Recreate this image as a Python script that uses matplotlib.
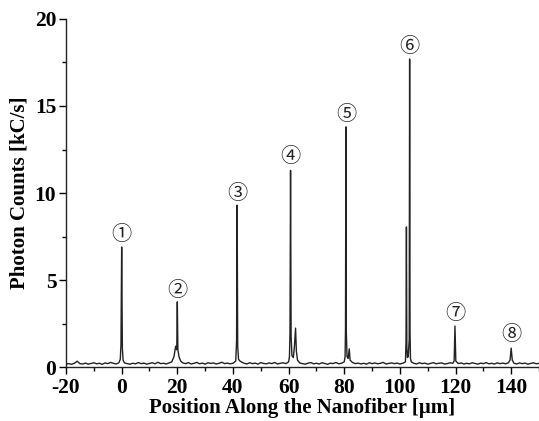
import matplotlib
matplotlib.use("Agg")
import matplotlib.pyplot as plt
from matplotlib.ticker import MultipleLocator

# trace (position in um, counts in kC/s)
pos = [-20, -19, -18, -17, -16, -15, -14, -13, -12, -11, -10, -9, -8, -7, -6, -5, -4, -3, -2, -1,
       -0.5, -0.25, 0, 0.25, 0.5,
       1, 2, 3, 4, 5, 6, 7, 8, 9, 10, 11, 12, 13, 14, 15, 16, 17, 18,
       18.8, 19.4, 19.8, 20.0, 20.2, 20.6, 21.2,
       22, 23, 24, 25, 26, 27, 28, 29, 30, 31, 32, 33, 34, 35, 36, 37, 38, 39, 40, 41,
       41.3, 41.5, 41.7, 42, 42.5,
       43, 44, 45, 46, 47, 48, 49, 50, 51, 52, 53, 54, 55, 56, 57, 58, 59, 60,
       60.3, 60.5, 60.7, 60.9, 61.2, 61.7, 62.1, 62.5, 62.8, 63.2,
       64, 65, 66, 67, 68, 69, 70, 71, 72, 73, 74, 75, 76, 77, 78, 79, 80,
       80.3, 80.45, 80.6, 80.75, 81.0, 81.4, 81.8, 82.1,
       83, 84, 85, 86, 87, 88, 89, 90, 91, 92, 93, 94, 95, 96, 97, 98, 99, 100, 101, 102,
       102.2, 102.35, 102.5, 102.7, 103.0, 103.35, 103.5, 103.65, 103.8, 104.1,
       105, 106, 107, 108, 109, 110, 111, 112, 113, 114, 115, 116, 117, 118, 119,
       119.5, 119.8, 120.1,
       121, 122, 123, 124, 125, 126, 127, 128, 129, 130, 131, 132, 133, 134, 135, 136, 137, 138, 139,
       139.6, 140, 140.4,
       141, 142, 143, 144, 145, 146, 147, 148, 149, 150]
counts = [0.17, 0.2, 0.16, 0.22, 0.34, 0.2, 0.18, 0.23, 0.17, 0.21, 0.25, 0.19, 0.22, 0.16, 0.24, 0.2, 0.27, 0.22, 0.18, 0.25,
          0.45, 1.3, 6.9, 1.1, 0.4,
          0.24, 0.2, 0.17, 0.22, 0.19, 0.26, 0.2, 0.23, 0.17, 0.21, 0.25, 0.19, 0.28, 0.2, 0.22, 0.18, 0.24, 0.3,
          0.6, 1.2, 1.0, 3.75, 1.0, 0.6, 0.35,
          0.24, 0.2, 0.26, 0.18, 0.22, 0.27, 0.19, 0.23, 0.17, 0.25, 0.21, 0.24, 0.18, 0.22, 0.28, 0.2, 0.23, 0.19, 0.22, 0.35,
          1.5, 9.3, 1.2, 0.45, 0.35,
          0.3, 0.22, 0.18, 0.25, 0.2, 0.23, 0.17, 0.26, 0.21, 0.19, 0.24, 0.2, 0.27, 0.18, 0.22, 0.25, 0.2, 0.3,
          0.6, 2.0, 11.3, 1.8, 0.65, 0.55, 1.2, 2.24, 0.9, 0.4,
          0.24, 0.2, 0.17, 0.23, 0.26, 0.19, 0.22, 0.18, 0.25, 0.21, 0.16, 0.23, 0.2, 0.27, 0.19, 0.22, 0.3,
          0.6, 2.2, 13.8, 2.0, 0.6, 0.5, 1.05, 0.4,
          0.26, 0.2, 0.23, 0.18, 0.22, 0.17, 0.25, 0.2, 0.24, 0.19, 0.22, 0.27, 0.18, 0.21, 0.24, 0.2, 0.23, 0.18, 0.22, 0.3,
          1.5, 8.05, 1.2, 0.55, 0.6, 1.6, 17.7, 2.0, 0.5, 0.3,
          0.22, 0.18, 0.25, 0.2, 0.23, 0.17, 0.21, 0.26, 0.19, 0.22, 0.24, 0.18, 0.2, 0.25, 0.22,
          0.35, 2.36, 0.35,
          0.2, 0.24, 0.18, 0.22, 0.19, 0.25, 0.21, 0.17, 0.23, 0.2, 0.26, 0.19, 0.22, 0.18, 0.24, 0.2, 0.23, 0.19, 0.25,
          0.4, 1.09, 0.4,
          0.22, 0.18, 0.24, 0.2, 0.23, 0.17, 0.21, 0.25, 0.19, 0.22]

# peak labels
label_text = ["\u2460", "\u2461", "\u2462", "\u2463", "\u2464", "\u2465", "\u2466", "\u2467"]
label_x = [0, 20, 41.5, 60.7, 80.6, 103.5, 119.8, 140]
label_y = [7.6, 4.4, 9.95, 12.1, 14.5, 18.4, 3.1, 1.85]

plt.rcParams['font.family'] = ['Liberation Serif', 'DejaVu Serif']
plt.rcParams['font.weight'] = 'bold'
plt.rcParams['axes.unicode_minus'] = False

fig = plt.figure(figsize=(5.39, 4.21), dpi=100)
ax = fig.add_axes([0.1225, 0.128, 0.8775, 0.827])

ax.plot(pos, counts, color='#222222', lw=1.0)

for t, x, y in zip(label_text, label_x, label_y):
    ax.text(x, y, t, ha='center', va='center', fontsize=14.5,
            family=['Noto Sans CJK JP', 'DejaVu Sans'], fontweight='normal', color='#222222')

ax.set_xlim(-20, 150)
ax.set_ylim(0, 20)
ax.xaxis.set_major_locator(MultipleLocator(20))
ax.xaxis.set_minor_locator(MultipleLocator(10))
ax.yaxis.set_major_locator(MultipleLocator(5))
ax.yaxis.set_minor_locator(MultipleLocator(2.5))
ax.tick_params(which='major', direction='out', length=5, width=1, labelsize=15.5, pad=2)
ax.tick_params(axis='x', which='major', pad=3)
ax.tick_params(which='minor', direction='out', length=3, width=1)

for s in ['top', 'right']:
    ax.spines[s].set_visible(False)
for s in ['left', 'bottom']:
    ax.spines[s].set_linewidth(1.0)
    ax.spines[s].set_color('#222222')

ax.set_xlabel('Position Along the Nanofiber [\u03bcm]', fontsize=15, fontweight='bold', labelpad=0)
ax.set_ylabel('Photon Counts [kC/s]', fontsize=15, fontweight='bold', labelpad=4)

fig.savefig('out.png', dpi=100)
